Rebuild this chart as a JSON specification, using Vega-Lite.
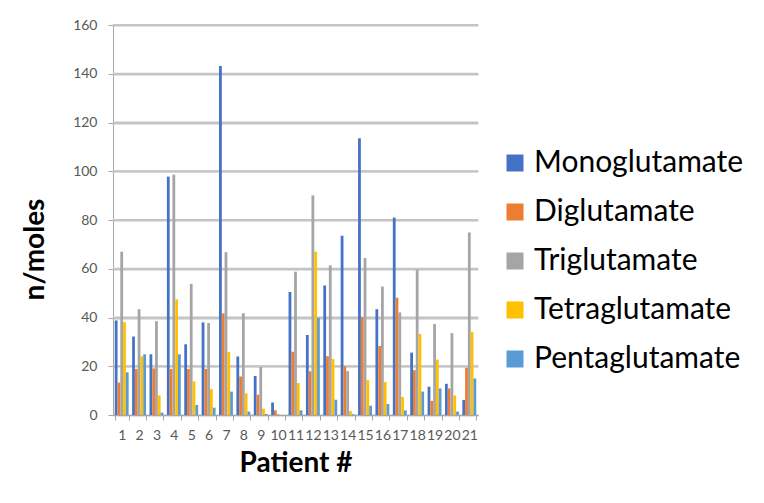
{
  "$schema": "https://vega.github.io/schema/vega-lite/v6.json",
  "width": 365,
  "height": 390,
  "autosize": {"type": "none"},
  "padding": {"left": 113, "top": 25, "right": 286, "bottom": 88},
  "background": "white",
  "config": {
    "font": "Lato",
    "view": {"stroke": null},
    "axis": {"labelFont": "Lato", "titleFont": "Lato", "labelColor": "#595959", "domainColor": "#a6a6a6", "tickColor": "#a6a6a6"}
  },
  "datasets": {
    "g": [{"v": 20}, {"v": 40}, {"v": 60}, {"v": 80}, {"v": 100}, {"v": 120}, {"v": 140}, {"v": 160}],
    "d": [
      {"p": "1", "s": "Monoglutamate", "v": 38.8}, {"p": "1", "s": "Diglutamate", "v": 13.3}, {"p": "1", "s": "Triglutamate", "v": 67}, {"p": "1", "s": "Tetraglutamate", "v": 38.1}, {"p": "1", "s": "Pentaglutamate", "v": 17.5},
      {"p": "2", "s": "Monoglutamate", "v": 32.2}, {"p": "2", "s": "Diglutamate", "v": 18.9}, {"p": "2", "s": "Triglutamate", "v": 43.4}, {"p": "2", "s": "Tetraglutamate", "v": 24.1}, {"p": "2", "s": "Pentaglutamate", "v": 24.9},
      {"p": "3", "s": "Monoglutamate", "v": 24.9}, {"p": "3", "s": "Diglutamate", "v": 19.1}, {"p": "3", "s": "Triglutamate", "v": 38.5}, {"p": "3", "s": "Tetraglutamate", "v": 8.0}, {"p": "3", "s": "Pentaglutamate", "v": 1.0},
      {"p": "4", "s": "Monoglutamate", "v": 97.8}, {"p": "4", "s": "Diglutamate", "v": 18.9}, {"p": "4", "s": "Triglutamate", "v": 98.6}, {"p": "4", "s": "Tetraglutamate", "v": 47.4}, {"p": "4", "s": "Pentaglutamate", "v": 24.9},
      {"p": "5", "s": "Monoglutamate", "v": 29.0}, {"p": "5", "s": "Diglutamate", "v": 18.9}, {"p": "5", "s": "Triglutamate", "v": 53.8}, {"p": "5", "s": "Tetraglutamate", "v": 13.8}, {"p": "5", "s": "Pentaglutamate", "v": 4.1},
      {"p": "6", "s": "Monoglutamate", "v": 38.0}, {"p": "6", "s": "Diglutamate", "v": 18.9}, {"p": "6", "s": "Triglutamate", "v": 37.7}, {"p": "6", "s": "Tetraglutamate", "v": 10.6}, {"p": "6", "s": "Pentaglutamate", "v": 3.0},
      {"p": "7", "s": "Monoglutamate", "v": 143.2}, {"p": "7", "s": "Diglutamate", "v": 41.7}, {"p": "7", "s": "Triglutamate", "v": 66.8}, {"p": "7", "s": "Tetraglutamate", "v": 25.9}, {"p": "7", "s": "Pentaglutamate", "v": 9.6},
      {"p": "8", "s": "Monoglutamate", "v": 24.0}, {"p": "8", "s": "Diglutamate", "v": 15.8}, {"p": "8", "s": "Triglutamate", "v": 41.7}, {"p": "8", "s": "Tetraglutamate", "v": 8.9}, {"p": "8", "s": "Pentaglutamate", "v": 1.4},
      {"p": "9", "s": "Monoglutamate", "v": 16.0}, {"p": "9", "s": "Diglutamate", "v": 8.3}, {"p": "9", "s": "Triglutamate", "v": 19.7}, {"p": "9", "s": "Tetraglutamate", "v": 2.6}, {"p": "9", "s": "Pentaglutamate", "v": 0.4},
      {"p": "10", "s": "Monoglutamate", "v": 5.1}, {"p": "10", "s": "Diglutamate", "v": 1.9}, {"p": "10", "s": "Triglutamate", "v": 0.3}, {"p": "10", "s": "Tetraglutamate", "v": 0}, {"p": "10", "s": "Pentaglutamate", "v": 0},
      {"p": "11", "s": "Monoglutamate", "v": 50.5}, {"p": "11", "s": "Diglutamate", "v": 25.9}, {"p": "11", "s": "Triglutamate", "v": 58.8}, {"p": "11", "s": "Tetraglutamate", "v": 13.1}, {"p": "11", "s": "Pentaglutamate", "v": 1.9},
      {"p": "12", "s": "Monoglutamate", "v": 32.8}, {"p": "12", "s": "Diglutamate", "v": 18.0}, {"p": "12", "s": "Triglutamate", "v": 90.1}, {"p": "12", "s": "Tetraglutamate", "v": 67.0}, {"p": "12", "s": "Pentaglutamate", "v": 39.9},
      {"p": "13", "s": "Monoglutamate", "v": 53.1}, {"p": "13", "s": "Diglutamate", "v": 24.1}, {"p": "13", "s": "Triglutamate", "v": 61.4}, {"p": "13", "s": "Tetraglutamate", "v": 22.9}, {"p": "13", "s": "Pentaglutamate", "v": 6.3},
      {"p": "14", "s": "Monoglutamate", "v": 73.5}, {"p": "14", "s": "Diglutamate", "v": 20.0}, {"p": "14", "s": "Triglutamate", "v": 18.0}, {"p": "14", "s": "Tetraglutamate", "v": 1.6}, {"p": "14", "s": "Pentaglutamate", "v": 0.3},
      {"p": "15", "s": "Monoglutamate", "v": 113.5}, {"p": "15", "s": "Diglutamate", "v": 40.1}, {"p": "15", "s": "Triglutamate", "v": 64.4}, {"p": "15", "s": "Tetraglutamate", "v": 14.4}, {"p": "15", "s": "Pentaglutamate", "v": 3.8},
      {"p": "16", "s": "Monoglutamate", "v": 43.4}, {"p": "16", "s": "Diglutamate", "v": 28.3}, {"p": "16", "s": "Triglutamate", "v": 52.7}, {"p": "16", "s": "Tetraglutamate", "v": 13.5}, {"p": "16", "s": "Pentaglutamate", "v": 4.5},
      {"p": "17", "s": "Monoglutamate", "v": 81.0}, {"p": "17", "s": "Diglutamate", "v": 48.1}, {"p": "17", "s": "Triglutamate", "v": 42.1}, {"p": "17", "s": "Tetraglutamate", "v": 7.4}, {"p": "17", "s": "Pentaglutamate", "v": 1.9},
      {"p": "18", "s": "Monoglutamate", "v": 25.6}, {"p": "18", "s": "Diglutamate", "v": 18.4}, {"p": "18", "s": "Triglutamate", "v": 59.6}, {"p": "18", "s": "Tetraglutamate", "v": 33.2}, {"p": "18", "s": "Pentaglutamate", "v": 9.6},
      {"p": "19", "s": "Monoglutamate", "v": 11.6}, {"p": "19", "s": "Diglutamate", "v": 5.8}, {"p": "19", "s": "Triglutamate", "v": 37.3}, {"p": "19", "s": "Tetraglutamate", "v": 22.7}, {"p": "19", "s": "Pentaglutamate", "v": 10.9},
      {"p": "20", "s": "Monoglutamate", "v": 12.8}, {"p": "20", "s": "Diglutamate", "v": 10.9}, {"p": "20", "s": "Triglutamate", "v": 33.6}, {"p": "20", "s": "Tetraglutamate", "v": 8.0}, {"p": "20", "s": "Pentaglutamate", "v": 1.4},
      {"p": "21", "s": "Monoglutamate", "v": 6.2}, {"p": "21", "s": "Diglutamate", "v": 19.4}, {"p": "21", "s": "Triglutamate", "v": 74.9}, {"p": "21", "s": "Tetraglutamate", "v": 34.0}, {"p": "21", "s": "Pentaglutamate", "v": 15.0}
    ]
  },
  "layer": [
    {
      "data": {"name": "g"},
      "mark": {"type": "rule", "color": "#c4c4c4", "strokeWidth": 2, "opacity": 1},
      "encoding": {
        "y": {"field": "v", "type": "quantitative"}
      }
    },
    {
      "data": {"name": "d"},
      "mark": {"type": "bar"},
      "encoding": {
        "x": {
          "field": "p", "type": "ordinal", "sort": null,
          "scale": {"paddingInner": 0.2, "paddingOuter": 0.1},
          "axis": {"title": "Patient #", "titleFontSize": 28, "titleFontWeight": "bold", "titleColor": "black", "titlePadding": 7, "labelAngle": 0, "labelFontSize": 14, "labelPadding": 8, "tickBand": "extent", "tickSize": 5, "grid": false}
        },
        "xOffset": {"field": "s", "type": "nominal", "sort": ["Monoglutamate", "Diglutamate", "Triglutamate", "Tetraglutamate", "Pentaglutamate"]},
        "y": {
          "field": "v", "type": "quantitative",
          "scale": {"domain": [0, 160]},
          "axis": {"title": "n/moles", "titleFontSize": 28, "titleFontWeight": "bold", "titleColor": "black", "titleX": -78, "titleY": 224, "titleAlign": "center", "titleBaseline": "middle", "values": [0, 20, 40, 60, 80, 100, 120, 140, 160], "labelFontSize": 14, "labelPadding": 11, "tickSize": 5, "domain": true, "grid": true, "gridColor": "#c4c4c4", "gridWidth": 2}
        },
        "color": {
          "field": "s", "type": "nominal",
          "sort": ["Monoglutamate", "Diglutamate", "Triglutamate", "Tetraglutamate", "Pentaglutamate"],
          "scale": {"domain": ["Monoglutamate", "Diglutamate", "Triglutamate", "Tetraglutamate", "Pentaglutamate"], "range": ["#4472C4", "#ED7D31", "#A5A5A5", "#FFC000", "#5B9BD5"]},
          "legend": {"title": null, "orient": "none", "legendX": 387, "legendY": 123, "padding": 0, "symbolType": "square", "symbolSize": 289, "symbolStrokeWidth": 0, "labelFontSize": 30, "labelFont": "Lato", "labelColor": "black", "rowPadding": 19, "labelOffset": 4, "labelLimit": 300}
        }
      }
    }
  ]
}
